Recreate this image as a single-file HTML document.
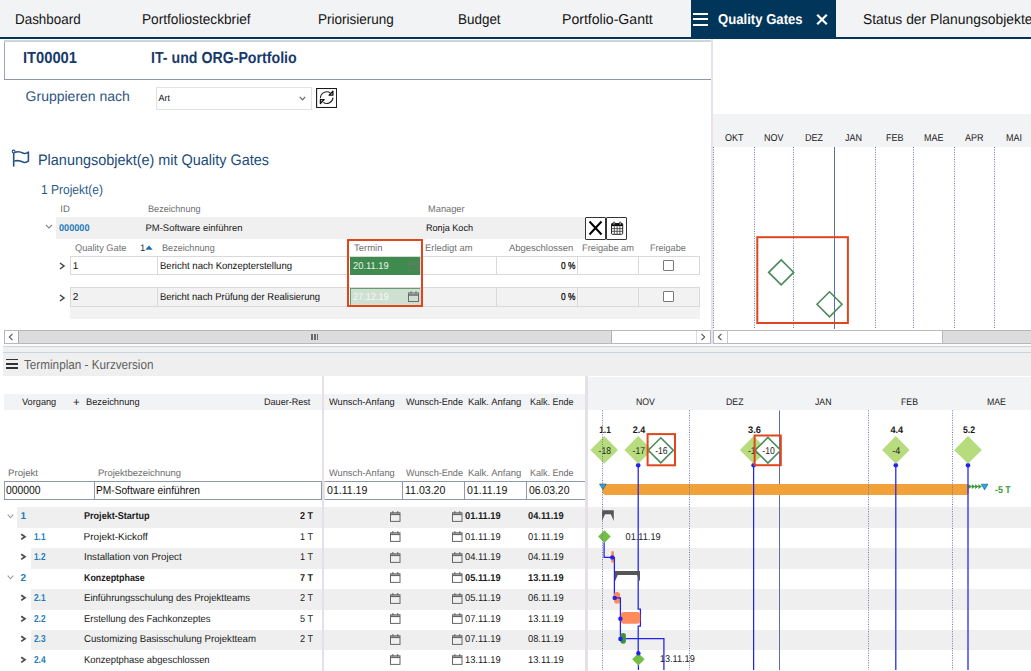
<!DOCTYPE html>
<html><head><meta charset="utf-8"><style>
html,body{margin:0;padding:0;overflow:hidden;}
body{width:1031px;height:671px;overflow:hidden;position:relative;background:#fff;font-family:'Liberation Sans', sans-serif;text-rendering:geometricPrecision;}
</style></head><body>
<div style="position:absolute;left:0px;top:0px;width:1031px;height:37px;background:#f2f3f5;"></div>
<div style="position:absolute;left:0px;top:37px;width:1031px;height:2px;background:#01355a;"></div>
<div style="position:absolute;left:691px;top:0px;width:145px;height:37px;background:#01355a;"></div>
<div style="position:absolute;left:693px;top:13px;width:14.5px;height:2px;background:#fff;"></div>
<div style="position:absolute;left:693px;top:18.4px;width:14.5px;height:2.0px;background:#fff;"></div>
<div style="position:absolute;left:693px;top:23.6px;width:14.5px;height:2.0px;background:#fff;"></div>
<svg style="position:absolute;left:816px;top:14px" width="12" height="11" viewBox="0 0 12 11"><path d="M1.2 0.8 L10.8 10.2 M10.8 0.8 L1.2 10.2" stroke="#fff" stroke-width="2.2"/></svg>
<div style="position:absolute;left:4px;top:40px;width:707px;height:2px;background:#d0d5dc;"></div>
<div style="position:absolute;left:4px;top:42px;width:1px;height:38px;background:#9aa6b2;"></div>
<div style="position:absolute;left:4px;top:79px;width:707px;height:1px;background:#8a99a8;"></div>
<div style="position:absolute;left:711px;top:39px;width:2px;height:306px;background:#e9e2ec;"></div>
<div style="position:absolute;left:156px;top:87px;width:156px;height:22.5px;background:#fff;border:1px solid #e2e2e2;box-sizing:border-box;"></div>
<svg style="position:absolute;left:299px;top:96px" width="7" height="5" viewBox="0 0 7 5"><path d="M0.8 0.8 L3.5 3.8 L6.2 0.8" stroke="#666" stroke-width="1.2" fill="none"/></svg>
<svg style="position:absolute;left:316px;top:88px" width="21" height="20" viewBox="0 0 21 20"><rect x="0.6" y="0.5" width="20" height="19" fill="#fff" stroke="#1a1a1a" stroke-width="1.1"/><path d="M4.4 10.2 A6.4 6.4 0 0 1 14.2 4.8" stroke="#222" stroke-width="1.1" fill="none"/><path d="M17 9.6 A6.4 6.4 0 0 1 7.4 14.6" stroke="#222" stroke-width="1.1" fill="none"/><path d="M16.9 3.3 L16.9 7.2 L13.1 7.2 Z" fill="#fff" stroke="#111" stroke-width="1.3" stroke-linejoin="round"/><path d="M4.4 11.6 L8.2 11.6 L4.4 15.5 Z" fill="#fff" stroke="#111" stroke-width="1.3" stroke-linejoin="round"/></svg>
<svg style="position:absolute;left:8px;top:146px" width="26" height="24" viewBox="0 0 26 24"><path d="M5.7 6.5 V20.6" stroke="#244f82" stroke-width="1.6"/><path d="M6.8 6.4 C8.5 5.6 12 5.4 15.5 7.2 C17.5 8 19 7.2 20.4 6 V15.2 C19 16.2 17.5 16.9 15.5 16.2 C12 14.6 8.5 14.4 6.4 15.1" stroke="#244f82" stroke-width="1.6" fill="none" stroke-linejoin="round"/><circle cx="5.6" cy="5.5" r="1.4" fill="#fff" stroke="#244f82" stroke-width="1.1"/></svg>
<div style="position:absolute;left:56px;top:216.5px;width:529px;height:22.5px;background:#f0f0f0;"></div>
<svg style="position:absolute;left:45px;top:224px" width="8" height="6" viewBox="0 0 8 6"><path d="M1 1 L4 4 L7 1" stroke="#888" stroke-width="1.1" fill="none"/></svg>
<div style="position:absolute;left:585px;top:217px;width:20.600000000000023px;height:22.599999999999994px;background:#fff;border:1px solid #333;box-sizing:border-box;border-radius:1px;"></div>
<svg style="position:absolute;left:588px;top:220px" width="15" height="16" viewBox="0 0 15 16"><path d="M1.5 1.5 L13.5 14.5 M13.5 1.5 L1.5 14.5" stroke="#000" stroke-width="2"/></svg>
<div style="position:absolute;left:606.2px;top:217px;width:20.799999999999955px;height:22.599999999999994px;background:#fff;border:1px solid #333;box-sizing:border-box;border-radius:1px;"></div>
<svg style="position:absolute;left:610px;top:221px" width="14" height="15" viewBox="0 0 14 15"><rect x="1.5" y="2.5" width="11.2" height="10.8" rx="1" fill="none" stroke="#222" stroke-width="1"/><rect x="1.5" y="2.5" width="11.2" height="2.6" fill="#111"/><path d="M1.5 7.6 H12.7 M1.5 10.3 H12.7 M4.3 5 V13.3 M7.1 5 V13.3 M9.9 5 V13.3" stroke="#333" stroke-width="0.8"/><rect x="3.2" y="1" width="1.6" height="3" rx="0.8" fill="#fff" stroke="#111" stroke-width="0.8"/><rect x="9.4" y="1" width="1.6" height="3" rx="0.8" fill="#fff" stroke="#111" stroke-width="0.8"/></svg>
<svg style="position:absolute;left:145px;top:245px" width="8" height="5" viewBox="0 0 8 5"><path d="M0.3 4.8 L4 0.5 L7.7 4.8 Z" fill="#1f6fb0"/></svg>
<div style="position:absolute;left:70px;top:256px;width:630px;height:19px;background:#fff;border:1px solid #d9d9d9;box-sizing:border-box;"></div>
<div style="position:absolute;left:157px;top:256px;width:1px;height:19px;background:#d9d9d9;"></div>
<div style="position:absolute;left:420px;top:256px;width:1px;height:19px;background:#d9d9d9;"></div>
<div style="position:absolute;left:496px;top:256px;width:1px;height:19px;background:#d9d9d9;"></div>
<div style="position:absolute;left:577px;top:256px;width:1px;height:19px;background:#d9d9d9;"></div>
<div style="position:absolute;left:638px;top:256px;width:1px;height:19px;background:#d9d9d9;"></div>
<div style="position:absolute;left:350px;top:256.5px;width:70px;height:18.0px;background:#3f8a4e;"></div>
<svg style="position:absolute;left:59px;top:262.0px" width="7" height="8" viewBox="0 0 7 8"><path d="M1 1 L5 4 L1 7" stroke="#444" stroke-width="1.5" fill="none"/></svg>
<div style="position:absolute;left:662.5px;top:259.9px;width:11.5px;height:11.0px;background:#fff;border:1px solid #7a7a7a;box-sizing:border-box;border-radius:1px;"></div>
<svg style="position:absolute;left:408px;top:259.5px" width="11" height="11" viewBox="0 0 11 11"><rect x="0.5" y="2" width="10" height="8.5" fill="none" stroke="#5f7d64" stroke-width="1"/><path d="M0.5 4 H10.5" stroke="#5f7d64" stroke-width="1.5"/><path d="M3 0.5 V2.5 M8 0.5 V2.5" stroke="#5f7d64" stroke-width="1.3"/></svg>
<div style="position:absolute;left:70px;top:287.3px;width:630px;height:19.399999999999977px;background:#f2f2f2;border:1px solid #d9d9d9;box-sizing:border-box;"></div>
<div style="position:absolute;left:157px;top:287.3px;width:1px;height:19.399999999999977px;background:#d9d9d9;"></div>
<div style="position:absolute;left:420px;top:287.3px;width:1px;height:19.399999999999977px;background:#d9d9d9;"></div>
<div style="position:absolute;left:496px;top:287.3px;width:1px;height:19.399999999999977px;background:#d9d9d9;"></div>
<div style="position:absolute;left:577px;top:287.3px;width:1px;height:19.399999999999977px;background:#d9d9d9;"></div>
<div style="position:absolute;left:638px;top:287.3px;width:1px;height:19.399999999999977px;background:#d9d9d9;"></div>
<div style="position:absolute;left:350px;top:287.8px;width:70px;height:18.399999999999977px;background:#cfdfd1;border-top:1px solid #6a9a72;border-left:1px solid #6a9a72;box-sizing:border-box;"></div>
<svg style="position:absolute;left:59px;top:293.5px" width="7" height="8" viewBox="0 0 7 8"><path d="M1 1 L5 4 L1 7" stroke="#444" stroke-width="1.5" fill="none"/></svg>
<div style="position:absolute;left:662.5px;top:291.4px;width:11.5px;height:11.0px;background:#fff;border:1px solid #7a7a7a;box-sizing:border-box;border-radius:1px;"></div>
<svg style="position:absolute;left:408px;top:291.0px" width="11" height="11" viewBox="0 0 11 11"><rect x="0.5" y="2" width="10" height="8.5" fill="none" stroke="#6a6a72" stroke-width="1"/><path d="M0.5 4 H10.5" stroke="#6a6a72" stroke-width="1.5"/><path d="M3 0.5 V2.5 M8 0.5 V2.5" stroke="#6a6a72" stroke-width="1.3"/></svg>
<div style="position:absolute;left:70px;top:306.7px;width:630px;height:12.0px;background:#f2f2f2;"></div>
<div style="position:absolute;left:347.4px;top:239px;width:75.20000000000005px;height:68.30000000000001px;background:none;border:2px solid #e0461e;box-sizing:border-box;"></div>
<div style="position:absolute;left:4px;top:330px;width:707px;height:14px;background:#fff;border:1px solid #b8b8b8;box-sizing:border-box;"></div>
<div style="position:absolute;left:5px;top:331px;width:13px;height:12px;background:#fff;"></div>
<div style="position:absolute;left:17.5px;top:331px;width:1.1999999999999993px;height:12px;background:#a8a8a8;"></div>
<svg style="position:absolute;left:8px;top:333px" width="6" height="8" viewBox="0 0 6 8"><path d="M4.5 0.8 L1.3 4 L4.5 7.2" stroke="#555" stroke-width="1.1" fill="none"/></svg>
<div style="position:absolute;left:18.7px;top:331px;width:593.3px;height:12px;background:#dcdcdc;"></div>
<div style="position:absolute;left:611px;top:331px;width:1px;height:12px;background:#b0b0b0;"></div>
<div style="position:absolute;left:311.2px;top:334px;width:1.6000000000000227px;height:6px;background:#6a6a6a;"></div>
<div style="position:absolute;left:314.0px;top:334px;width:1.6000000000000227px;height:6px;background:#6a6a6a;"></div>
<div style="position:absolute;left:316.6px;top:334px;width:1.6000000000000227px;height:6px;background:#6a6a6a;"></div>
<div style="position:absolute;left:696.4px;top:331px;width:1.0px;height:12px;background:#dcdcdc;"></div>
<svg style="position:absolute;left:700px;top:333px" width="6" height="8" viewBox="0 0 6 8"><path d="M1.5 0.8 L4.7 4 L1.5 7.2" stroke="#555" stroke-width="1.1" fill="none"/></svg>
<div style="position:absolute;left:713px;top:114px;width:318px;height:33px;background:#f2f3f5;"></div>
<svg style="position:absolute;left:0;top:0" width="1031" height="671" viewBox="0 0 1031 671"><line x1="713.5" y1="147" x2="713.5" y2="329" stroke="#6a7aa8" stroke-width="1" stroke-dasharray="1 1.4"/><line x1="754.5" y1="147" x2="754.5" y2="329" stroke="#6a7aa8" stroke-width="1" stroke-dasharray="1 1.4"/><line x1="793.5" y1="147" x2="793.5" y2="329" stroke="#6a7aa8" stroke-width="1" stroke-dasharray="1 1.4"/><line x1="875.5" y1="147" x2="875.5" y2="329" stroke="#6a7aa8" stroke-width="1" stroke-dasharray="1 1.4"/><line x1="913.5" y1="147" x2="913.5" y2="329" stroke="#6a7aa8" stroke-width="1" stroke-dasharray="1 1.4"/><line x1="954.5" y1="147" x2="954.5" y2="329" stroke="#6a7aa8" stroke-width="1" stroke-dasharray="1 1.4"/><line x1="994.5" y1="147" x2="994.5" y2="329" stroke="#6a7aa8" stroke-width="1" stroke-dasharray="1 1.4"/><line x1="834.5" y1="147" x2="834.5" y2="329" stroke="#5f6f9c" stroke-width="1"/><path d="M768.7 272.4 L781.2 259.9 L793.7 272.4 L781.2 284.9 Z" fill="none" stroke="#4a8a5a" stroke-width="1.6"/><path d="M817.0 304.3 L829.5 291.8 L842.0 304.3 L829.5 316.8 Z" fill="none" stroke="#4a8a5a" stroke-width="1.6"/><rect x="757.3" y="237.2" width="90.6" height="85.8" fill="none" stroke="#e0461e" stroke-width="2"/></svg>
<div style="position:absolute;left:713px;top:330px;width:318px;height:14px;background:#fff;border:1px solid #b8b8b8;box-sizing:border-box;"></div>
<div style="position:absolute;left:727px;top:331px;width:1px;height:12px;background:#c8c8c8;"></div>
<svg style="position:absolute;left:717px;top:333px" width="6" height="8" viewBox="0 0 6 8"><path d="M4.5 0.8 L1.3 4 L4.5 7.2" stroke="#555" stroke-width="1.1" fill="none"/></svg>
<div style="position:absolute;left:942.6px;top:331px;width:88.39999999999998px;height:12px;background:#dcdcdc;"></div>
<div style="position:absolute;left:942px;top:331px;width:1px;height:12px;background:#b8b8b8;"></div>
<div style="position:absolute;left:3px;top:344px;width:1028px;height:2px;background:#fcfcfc;"></div>
<div style="position:absolute;left:3px;top:346px;width:1028px;height:1px;background:#ccd3e0;"></div>
<div style="position:absolute;left:3px;top:347px;width:1028px;height:5px;background:#f0f0f0;"></div>
<div style="position:absolute;left:3px;top:352px;width:1028px;height:1px;background:#ccd3e0;"></div>
<div style="position:absolute;left:3px;top:353px;width:1028px;height:23px;background:#efefef;"></div>
<div style="position:absolute;left:6px;top:358.6px;width:12.2px;height:1.6000000000000227px;background:#333;"></div>
<div style="position:absolute;left:6px;top:363px;width:12.2px;height:1.6000000000000227px;background:#333;"></div>
<div style="position:absolute;left:6px;top:367.3px;width:12.2px;height:1.6000000000000227px;background:#333;"></div>
<div style="position:absolute;left:322px;top:376px;width:2px;height:295px;background:#e6dfe9;"></div>
<div style="position:absolute;left:585.2px;top:376px;width:2.599999999999909px;height:295px;background:#e6dfe9;"></div>
<div style="position:absolute;left:3.8px;top:394.4px;width:318.2px;height:16.0px;background:#f2f3f5;"></div>
<div style="position:absolute;left:324px;top:394.4px;width:261.20000000000005px;height:16.0px;background:#f2f3f5;"></div>
<div style="position:absolute;left:587.8px;top:377px;width:443.20000000000005px;height:33.39999999999998px;background:#f2f3f5;"></div>
<div style="position:absolute;left:3.8px;top:481.2px;width:317.9px;height:19.0px;background:#fff;border:1px solid #8d98a8;box-sizing:border-box;"></div>
<div style="position:absolute;left:94.4px;top:481.2px;width:1.0px;height:18.80000000000001px;background:#8d98a8;"></div>
<div style="position:absolute;left:324px;top:481.2px;width:261.20000000000005px;height:19.0px;background:#fff;border:1px solid #8d98a8;box-sizing:border-box;border-right:none;border-left:1px solid #e4e6ea;"></div>
<div style="position:absolute;left:401.9px;top:481.2px;width:1.0px;height:18.80000000000001px;background:#8d98a8;"></div>
<div style="position:absolute;left:464.1px;top:481.2px;width:1.0px;height:18.80000000000001px;background:#8d98a8;"></div>
<div style="position:absolute;left:526.3px;top:481.2px;width:1.0px;height:18.80000000000001px;background:#8d98a8;"></div>
<div style="position:absolute;left:17.3px;top:507px;width:304.7px;height:21px;background:#efefef;"></div>
<div style="position:absolute;left:324px;top:507px;width:261.20000000000005px;height:21px;background:#efefef;"></div>
<div style="position:absolute;left:587.8px;top:507px;width:443.20000000000005px;height:21px;background:#efefef;"></div>
<svg style="position:absolute;left:6.5px;top:513.75px" width="7" height="5" viewBox="0 0 7 5"><path d="M0.7 0.7 L3.5 3.8 L6.3 0.7" stroke="#999" stroke-width="1.1" fill="none"/></svg>
<svg style="position:absolute;left:389.7px;top:510.60px" width="11" height="11" viewBox="0 0 11 11"><rect x="0.5" y="1.8" width="9.5" height="8.6" fill="none" stroke="#666" stroke-width="1"/><path d="M0.5 3.3 H10" stroke="#666" stroke-width="1.6"/><path d="M2.8 0.3 V2.3 M7.7 0.3 V2.3" stroke="#666" stroke-width="1.3"/></svg>
<svg style="position:absolute;left:451.9px;top:510.60px" width="11" height="11" viewBox="0 0 11 11"><rect x="0.5" y="1.8" width="9.5" height="8.6" fill="none" stroke="#666" stroke-width="1"/><path d="M0.5 3.3 H10" stroke="#666" stroke-width="1.6"/><path d="M2.8 0.3 V2.3 M7.7 0.3 V2.3" stroke="#666" stroke-width="1.3"/></svg>
<svg style="position:absolute;left:19.8px;top:532.75px" width="7" height="8" viewBox="0 0 7 8"><path d="M1.2 1.2 L5 3.8 L1.2 6.4" stroke="#4a4a4a" stroke-width="1.7" fill="none"/></svg>
<svg style="position:absolute;left:389.7px;top:531.10px" width="11" height="11" viewBox="0 0 11 11"><rect x="0.5" y="1.8" width="9.5" height="8.6" fill="none" stroke="#666" stroke-width="1"/><path d="M0.5 3.3 H10" stroke="#666" stroke-width="1.6"/><path d="M2.8 0.3 V2.3 M7.7 0.3 V2.3" stroke="#666" stroke-width="1.3"/></svg>
<svg style="position:absolute;left:451.9px;top:531.10px" width="11" height="11" viewBox="0 0 11 11"><rect x="0.5" y="1.8" width="9.5" height="8.6" fill="none" stroke="#666" stroke-width="1"/><path d="M0.5 3.3 H10" stroke="#666" stroke-width="1.6"/><path d="M2.8 0.3 V2.3 M7.7 0.3 V2.3" stroke="#666" stroke-width="1.3"/></svg>
<div style="position:absolute;left:31.1px;top:548px;width:290.9px;height:21px;background:#efefef;"></div>
<div style="position:absolute;left:324px;top:548px;width:261.20000000000005px;height:21px;background:#efefef;"></div>
<div style="position:absolute;left:587.8px;top:548px;width:443.20000000000005px;height:21px;background:#efefef;"></div>
<svg style="position:absolute;left:19.8px;top:553.25px" width="7" height="8" viewBox="0 0 7 8"><path d="M1.2 1.2 L5 3.8 L1.2 6.4" stroke="#4a4a4a" stroke-width="1.7" fill="none"/></svg>
<svg style="position:absolute;left:389.7px;top:551.60px" width="11" height="11" viewBox="0 0 11 11"><rect x="0.5" y="1.8" width="9.5" height="8.6" fill="none" stroke="#666" stroke-width="1"/><path d="M0.5 3.3 H10" stroke="#666" stroke-width="1.6"/><path d="M2.8 0.3 V2.3 M7.7 0.3 V2.3" stroke="#666" stroke-width="1.3"/></svg>
<svg style="position:absolute;left:451.9px;top:551.60px" width="11" height="11" viewBox="0 0 11 11"><rect x="0.5" y="1.8" width="9.5" height="8.6" fill="none" stroke="#666" stroke-width="1"/><path d="M0.5 3.3 H10" stroke="#666" stroke-width="1.6"/><path d="M2.8 0.3 V2.3 M7.7 0.3 V2.3" stroke="#666" stroke-width="1.3"/></svg>
<svg style="position:absolute;left:6.5px;top:575.25px" width="7" height="5" viewBox="0 0 7 5"><path d="M0.7 0.7 L3.5 3.8 L6.3 0.7" stroke="#999" stroke-width="1.1" fill="none"/></svg>
<svg style="position:absolute;left:389.7px;top:572.10px" width="11" height="11" viewBox="0 0 11 11"><rect x="0.5" y="1.8" width="9.5" height="8.6" fill="none" stroke="#666" stroke-width="1"/><path d="M0.5 3.3 H10" stroke="#666" stroke-width="1.6"/><path d="M2.8 0.3 V2.3 M7.7 0.3 V2.3" stroke="#666" stroke-width="1.3"/></svg>
<svg style="position:absolute;left:451.9px;top:572.10px" width="11" height="11" viewBox="0 0 11 11"><rect x="0.5" y="1.8" width="9.5" height="8.6" fill="none" stroke="#666" stroke-width="1"/><path d="M0.5 3.3 H10" stroke="#666" stroke-width="1.6"/><path d="M2.8 0.3 V2.3 M7.7 0.3 V2.3" stroke="#666" stroke-width="1.3"/></svg>
<div style="position:absolute;left:31.1px;top:589px;width:290.9px;height:20.5px;background:#efefef;"></div>
<div style="position:absolute;left:324px;top:589px;width:261.20000000000005px;height:20.5px;background:#efefef;"></div>
<div style="position:absolute;left:587.8px;top:589px;width:443.20000000000005px;height:20.5px;background:#efefef;"></div>
<svg style="position:absolute;left:19.8px;top:594.25px" width="7" height="8" viewBox="0 0 7 8"><path d="M1.2 1.2 L5 3.8 L1.2 6.4" stroke="#4a4a4a" stroke-width="1.7" fill="none"/></svg>
<svg style="position:absolute;left:389.7px;top:592.60px" width="11" height="11" viewBox="0 0 11 11"><rect x="0.5" y="1.8" width="9.5" height="8.6" fill="none" stroke="#666" stroke-width="1"/><path d="M0.5 3.3 H10" stroke="#666" stroke-width="1.6"/><path d="M2.8 0.3 V2.3 M7.7 0.3 V2.3" stroke="#666" stroke-width="1.3"/></svg>
<svg style="position:absolute;left:451.9px;top:592.60px" width="11" height="11" viewBox="0 0 11 11"><rect x="0.5" y="1.8" width="9.5" height="8.6" fill="none" stroke="#666" stroke-width="1"/><path d="M0.5 3.3 H10" stroke="#666" stroke-width="1.6"/><path d="M2.8 0.3 V2.3 M7.7 0.3 V2.3" stroke="#666" stroke-width="1.3"/></svg>
<svg style="position:absolute;left:19.8px;top:614.75px" width="7" height="8" viewBox="0 0 7 8"><path d="M1.2 1.2 L5 3.8 L1.2 6.4" stroke="#4a4a4a" stroke-width="1.7" fill="none"/></svg>
<svg style="position:absolute;left:389.7px;top:613.10px" width="11" height="11" viewBox="0 0 11 11"><rect x="0.5" y="1.8" width="9.5" height="8.6" fill="none" stroke="#666" stroke-width="1"/><path d="M0.5 3.3 H10" stroke="#666" stroke-width="1.6"/><path d="M2.8 0.3 V2.3 M7.7 0.3 V2.3" stroke="#666" stroke-width="1.3"/></svg>
<svg style="position:absolute;left:451.9px;top:613.10px" width="11" height="11" viewBox="0 0 11 11"><rect x="0.5" y="1.8" width="9.5" height="8.6" fill="none" stroke="#666" stroke-width="1"/><path d="M0.5 3.3 H10" stroke="#666" stroke-width="1.6"/><path d="M2.8 0.3 V2.3 M7.7 0.3 V2.3" stroke="#666" stroke-width="1.3"/></svg>
<div style="position:absolute;left:31.1px;top:630px;width:290.9px;height:19.799999999999955px;background:#efefef;"></div>
<div style="position:absolute;left:324px;top:630px;width:261.20000000000005px;height:19.799999999999955px;background:#efefef;"></div>
<div style="position:absolute;left:587.8px;top:630px;width:443.20000000000005px;height:19.799999999999955px;background:#efefef;"></div>
<svg style="position:absolute;left:19.8px;top:635.25px" width="7" height="8" viewBox="0 0 7 8"><path d="M1.2 1.2 L5 3.8 L1.2 6.4" stroke="#4a4a4a" stroke-width="1.7" fill="none"/></svg>
<svg style="position:absolute;left:389.7px;top:633.60px" width="11" height="11" viewBox="0 0 11 11"><rect x="0.5" y="1.8" width="9.5" height="8.6" fill="none" stroke="#666" stroke-width="1"/><path d="M0.5 3.3 H10" stroke="#666" stroke-width="1.6"/><path d="M2.8 0.3 V2.3 M7.7 0.3 V2.3" stroke="#666" stroke-width="1.3"/></svg>
<svg style="position:absolute;left:451.9px;top:633.60px" width="11" height="11" viewBox="0 0 11 11"><rect x="0.5" y="1.8" width="9.5" height="8.6" fill="none" stroke="#666" stroke-width="1"/><path d="M0.5 3.3 H10" stroke="#666" stroke-width="1.6"/><path d="M2.8 0.3 V2.3 M7.7 0.3 V2.3" stroke="#666" stroke-width="1.3"/></svg>
<svg style="position:absolute;left:19.8px;top:655.75px" width="7" height="8" viewBox="0 0 7 8"><path d="M1.2 1.2 L5 3.8 L1.2 6.4" stroke="#4a4a4a" stroke-width="1.7" fill="none"/></svg>
<svg style="position:absolute;left:389.7px;top:654.10px" width="11" height="11" viewBox="0 0 11 11"><rect x="0.5" y="1.8" width="9.5" height="8.6" fill="none" stroke="#666" stroke-width="1"/><path d="M0.5 3.3 H10" stroke="#666" stroke-width="1.6"/><path d="M2.8 0.3 V2.3 M7.7 0.3 V2.3" stroke="#666" stroke-width="1.3"/></svg>
<svg style="position:absolute;left:451.9px;top:654.10px" width="11" height="11" viewBox="0 0 11 11"><rect x="0.5" y="1.8" width="9.5" height="8.6" fill="none" stroke="#666" stroke-width="1"/><path d="M0.5 3.3 H10" stroke="#666" stroke-width="1.6"/><path d="M2.8 0.3 V2.3 M7.7 0.3 V2.3" stroke="#666" stroke-width="1.3"/></svg>
<svg style="position:absolute;left:0;top:0" width="1031" height="671" viewBox="0 0 1031 671"><line x1="779.5" y1="410.4" x2="779.5" y2="670" stroke="#5f6f9c" stroke-width="1"/><path d="M602.3 484 H967 Q968.8 484 968.8 486 V493 Q968.8 495 966.8 495 H606.3 Q602.3 495 602.3 491 Z" fill="#f0a13a"/><path d="M599.5 484 H606.2 L602.85 489.6 Z" fill="#18b0f0" stroke="#2a4a6a" stroke-width="0.6"/><path d="M968.5 484.3 L972 486.6 L968.5 488.9 Z M971.8 484.3 L975.3 486.6 L971.8 488.9 Z M975.1 484.3 L978.6 486.6 L975.1 488.9 Z M978.4 484.3 L981.9 486.6 L978.4 488.9 Z" fill="#3a9a3a"/><path d="M981.2 484.2 H988 L984.6 489.8 Z" fill="#18b0f0" stroke="#2a4a6a" stroke-width="0.6"/><path d="M638.2 465.3 V609.2 H640.4 V626.1 H638.2 V653.2 M638.4 665 V670" stroke="#2222ee" stroke-width="1.25" fill="none"/><circle cx="638.2" cy="465.3" r="2.3" fill="#2222ee"/><line x1="753.6" y1="465.3" x2="753.6" y2="670" stroke="#2222ee" stroke-width="1.25"/><circle cx="753.6" cy="465.3" r="2.3" fill="#2222ee"/><line x1="895.8" y1="465.3" x2="895.8" y2="670" stroke="#2222ee" stroke-width="1.25"/><circle cx="895.8" cy="465.3" r="2.3" fill="#2222ee"/><line x1="968" y1="465.3" x2="968" y2="670" stroke="#2222ee" stroke-width="1.25"/><circle cx="968" cy="465.3" r="2.3" fill="#2222ee"/><path d="M590.4000000000001 449.9 L604.2 436.09999999999997 L618.0 449.9 L604.2 463.7 Z" fill="#b7dc7d"/><path d="M624.4000000000001 449.9 L638.2 436.09999999999997 L652.0 449.9 L638.2 463.7 Z" fill="#b7dc7d"/><path d="M739.8000000000001 449.9 L753.6 436.09999999999997 L767.4 449.9 L753.6 463.7 Z" fill="#b7dc7d"/><path d="M882.0 449.9 L895.8 436.09999999999997 L909.5999999999999 449.9 L895.8 463.7 Z" fill="#b7dc7d"/><path d="M954.2 449.9 L968 436.09999999999997 L981.8 449.9 L968 463.7 Z" fill="#b7dc7d"/><text x="604.8" y="453.6" font-family="Liberation Sans" font-size="10" font-weight="400" fill="#222" text-anchor="middle" textLength="12.4" lengthAdjust="spacingAndGlyphs">-18</text><text x="638.8" y="453.6" font-family="Liberation Sans" font-size="10" font-weight="400" fill="#222" text-anchor="middle" textLength="12.4" lengthAdjust="spacingAndGlyphs">-17</text><text x="754.2" y="453.6" font-family="Liberation Sans" font-size="10" font-weight="400" fill="#222" text-anchor="middle" textLength="12.4" lengthAdjust="spacingAndGlyphs">-10</text><text x="896.2" y="453.6" font-family="Liberation Sans" font-size="10" font-weight="400" fill="#222" text-anchor="middle" textLength="8" lengthAdjust="spacingAndGlyphs">-4</text><path d="M648.3 450.3 L660.8 437.8 L673.3 450.3 L660.8 462.8 Z" fill="#fff" stroke="#4a8a5a" stroke-width="1.6"/><text x="661.4" y="453.6" font-family="Liberation Sans" font-size="10" font-weight="400" fill="#222" text-anchor="middle" textLength="12.4" lengthAdjust="spacingAndGlyphs">-16</text><path d="M755.1 450.3 L767.9 437.5 L780.6999999999999 450.3 L767.9 463.1 Z" fill="#fff" stroke="#4a8a5a" stroke-width="1.6"/><text x="768.5" y="453.6" font-family="Liberation Sans" font-size="10" font-weight="400" fill="#222" text-anchor="middle" textLength="12.4" lengthAdjust="spacingAndGlyphs">-10</text><rect x="647.6" y="434.1" width="27.4" height="31.2" fill="none" stroke="#e0461e" stroke-width="2"/><rect x="754.6" y="435.5" width="26.2" height="29.7" fill="none" stroke="#e0461e" stroke-width="2"/><text x="599.2" y="432.9" font-family="Liberation Sans" font-size="9.5" font-weight="700" fill="#1a1a1a" text-anchor="start" textLength="11.7" lengthAdjust="spacingAndGlyphs">1.1</text><text x="632.8" y="432.9" font-family="Liberation Sans" font-size="9.5" font-weight="700" fill="#1a1a1a" text-anchor="start" textLength="12.5" lengthAdjust="spacingAndGlyphs">2.4</text><text x="748" y="432.9" font-family="Liberation Sans" font-size="9.5" font-weight="700" fill="#1a1a1a" text-anchor="start" textLength="13" lengthAdjust="spacingAndGlyphs">3.6</text><text x="890.4" y="432.9" font-family="Liberation Sans" font-size="9.5" font-weight="700" fill="#1a1a1a" text-anchor="start" textLength="12.7" lengthAdjust="spacingAndGlyphs">4.4</text><text x="963" y="432.9" font-family="Liberation Sans" font-size="9.5" font-weight="700" fill="#1a1a1a" text-anchor="start" textLength="12.1" lengthAdjust="spacingAndGlyphs">5.2</text><text x="995" y="492.8" font-family="Liberation Sans" font-size="10" font-weight="700" fill="#3a9a3a" text-anchor="start" textLength="15.7" lengthAdjust="spacingAndGlyphs">-5 T</text><path d="M602 510.2 H613.8 V521 L610.8 514.2 H605 L602 521 Z" fill="#555"/><path d="M614.8 571 H640 V581.8 L637 575 H617.8 L614.8 581.8 Z" fill="#555"/><path d="M598.1 536.6 L604.4 530.3000000000001 L610.6999999999999 536.6 L604.4 542.9 Z" fill="#72bf44"/><text x="625.6" y="540" font-family="Liberation Sans" font-size="10" font-weight="400" fill="#222" text-anchor="start" textLength="35" lengthAdjust="spacingAndGlyphs">01.11.19</text><path d="M604.1 542.5 V557.4 H612.2" stroke="#2222ee" stroke-width="1.25" fill="none"/><rect x="611.2" y="551" width="2.8" height="11.8" rx="1.4" fill="#ff8a5c"/><circle cx="612.2" cy="557.4" r="2.2" fill="#2222ee"/><path d="M612.2 557.4 H614.4 V597.9" stroke="#2222ee" stroke-width="1.25" fill="none"/><rect x="614" y="592" width="6.1" height="11.7" rx="3" fill="#ff8a5c"/><circle cx="614.7" cy="597.9" r="2.2" fill="#2222ee"/><path d="M614.7 597.9 H620.4 V639" stroke="#2222ee" stroke-width="1.25" fill="none"/><rect x="620.8" y="612.1" width="19.4" height="11.6" rx="3" fill="#ff8a5c"/><circle cx="620.4" cy="618.7" r="2.2" fill="#2222ee"/><rect x="620.4" y="632.9" width="5.5" height="10.8" rx="2.7" fill="#3f8f3f"/><circle cx="620.4" cy="639" r="2.2" fill="#2222ee"/><path d="M625.9 638.6 H663.9 V670" stroke="#2222ee" stroke-width="1.25" fill="none"/><path d="M632.1999999999999 659.3 L638.4 653.0999999999999 L644.6 659.3 L638.4 665.5 Z" fill="#72bf44"/><circle cx="638.4" cy="653.2" r="2.2" fill="#2222ee"/><text x="659.8" y="662" font-family="Liberation Sans" font-size="10" font-weight="400" fill="#222" text-anchor="start" textLength="35" lengthAdjust="spacingAndGlyphs">13.11.19</text><line x1="602.5" y1="410.4" x2="602.5" y2="670" stroke="#6a7aa8" stroke-width="1" stroke-dasharray="1 1.4"/><line x1="689.5" y1="410.4" x2="689.5" y2="670" stroke="#6a7aa8" stroke-width="1" stroke-dasharray="1 1.4"/><line x1="868.5" y1="410.4" x2="868.5" y2="670" stroke="#6a7aa8" stroke-width="1" stroke-dasharray="1 1.4"/><line x1="952.5" y1="410.4" x2="952.5" y2="670" stroke="#6a7aa8" stroke-width="1" stroke-dasharray="1 1.4"/></svg>
<div style="position:absolute;left:14.90px;top:13.00px;font-size:14.3px;line-height:14.3px;font-weight:400;color:#141414;white-space:nowrap;transform:scaleX(0.9378);transform-origin:0 0;">Dashboard</div>
<div style="position:absolute;left:142.00px;top:13.00px;font-size:14.3px;line-height:14.3px;font-weight:400;color:#141414;white-space:nowrap;transform:scaleX(0.9556);transform-origin:0 0;">Portfoliosteckbrief</div>
<div style="position:absolute;left:317.90px;top:13.00px;font-size:14.3px;line-height:14.3px;font-weight:400;color:#141414;white-space:nowrap;transform:scaleX(0.9444);transform-origin:0 0;">Priorisierung</div>
<div style="position:absolute;left:458.30px;top:13.00px;font-size:14.3px;line-height:14.3px;font-weight:400;color:#141414;white-space:nowrap;transform:scaleX(0.9398);transform-origin:0 0;">Budget</div>
<div style="position:absolute;left:562.00px;top:13.00px;font-size:14.3px;line-height:14.3px;font-weight:400;color:#141414;white-space:nowrap;transform:scaleX(0.9849);transform-origin:0 0;">Portfolio-Gantt</div>
<div style="position:absolute;left:717.80px;top:13.00px;font-size:14.3px;line-height:14.3px;font-weight:700;color:#fff;white-space:nowrap;transform:scaleX(0.9179);transform-origin:0 0;">Quality Gates</div>
<div style="position:absolute;left:862.60px;top:13.00px;font-size:14.3px;line-height:14.3px;font-weight:400;color:#141414;white-space:nowrap;transform:scaleX(0.9694);transform-origin:0 0;">Status der Planungsobjekte</div>
<div style="position:absolute;left:23.00px;top:51.00px;font-size:16px;line-height:16px;font-weight:700;color:#163a6a;white-space:nowrap;transform:scaleX(0.9196);transform-origin:0 0;">IT00001</div>
<div style="position:absolute;left:151.10px;top:51.00px;font-size:16px;line-height:16px;font-weight:700;color:#163a6a;white-space:nowrap;transform:scaleX(0.8861);transform-origin:0 0;">IT- und ORG-Portfolio</div>
<div style="position:absolute;left:25.60px;top:89.00px;font-size:14px;line-height:14px;font-weight:400;color:#2e5582;white-space:nowrap;">Gruppieren nach</div>
<div style="position:absolute;left:158.40px;top:94.00px;font-size:9px;line-height:9px;font-weight:400;color:#111;white-space:nowrap;">Art</div>
<div style="position:absolute;left:38.00px;top:153.00px;font-size:15.3px;line-height:15.3px;font-weight:400;color:#214c78;white-space:nowrap;transform:scaleX(0.9433);transform-origin:0 0;">Planungsobjekt(e) mit Quality Gates</div>
<div style="position:absolute;left:40.70px;top:183.00px;font-size:13px;line-height:13px;font-weight:400;color:#2a5a8a;white-space:nowrap;transform:scaleX(0.9226);transform-origin:0 0;">1 Projekt(e)</div>
<div style="position:absolute;left:60.30px;top:205.00px;font-size:9.5px;line-height:9.5px;font-weight:400;color:#6f6f6f;white-space:nowrap;">ID</div>
<div style="position:absolute;left:147.70px;top:205.00px;font-size:9.5px;line-height:9.5px;font-weight:400;color:#6f6f6f;white-space:nowrap;transform:scaleX(0.9575);transform-origin:0 0;">Bezeichnung</div>
<div style="position:absolute;left:428.40px;top:205.00px;font-size:9.5px;line-height:9.5px;font-weight:400;color:#6f6f6f;white-space:nowrap;transform:scaleX(0.9760);transform-origin:0 0;">Manager</div>
<div style="position:absolute;left:59.30px;top:224.00px;font-size:9.8px;line-height:9.8px;font-weight:700;color:#1f7ab8;white-space:nowrap;transform:scaleX(0.9326);transform-origin:0 0;">000000</div>
<div style="position:absolute;left:145.40px;top:224.00px;font-size:9.5px;line-height:9.5px;font-weight:400;color:#222;white-space:nowrap;">PM-Software einführen</div>
<div style="position:absolute;left:425.60px;top:224.00px;font-size:9.5px;line-height:9.5px;font-weight:400;color:#111;white-space:nowrap;transform:scaleX(0.9567);transform-origin:0 0;">Ronja Koch</div>
<div style="position:absolute;left:75.10px;top:244.00px;font-size:9.5px;line-height:9.5px;font-weight:400;color:#6f6f6f;white-space:nowrap;transform:scaleX(0.9733);transform-origin:0 0;">Quality Gate</div>
<div style="position:absolute;left:139.90px;top:244.00px;font-size:9.5px;line-height:9.5px;font-weight:400;color:#333;white-space:nowrap;">1</div>
<div style="position:absolute;left:161.50px;top:244.00px;font-size:9.5px;line-height:9.5px;font-weight:400;color:#6f6f6f;white-space:nowrap;transform:scaleX(0.9593);transform-origin:0 0;">Bezeichnung</div>
<div style="position:absolute;left:354.00px;top:244.00px;font-size:9.5px;line-height:9.5px;font-weight:400;color:#6f6f6f;white-space:nowrap;">Termin</div>
<div style="position:absolute;left:424.80px;top:244.00px;font-size:9.5px;line-height:9.5px;font-weight:400;color:#6f6f6f;white-space:nowrap;transform:scaleX(0.9883);transform-origin:0 0;">Erledigt am</div>
<div style="position:absolute;left:508.90px;top:244.00px;font-size:9.5px;line-height:9.5px;font-weight:400;color:#6f6f6f;white-space:nowrap;">Abgeschlossen</div>
<div style="position:absolute;left:581.70px;top:244.00px;font-size:9.5px;line-height:9.5px;font-weight:400;color:#6f6f6f;white-space:nowrap;transform:scaleX(0.9748);transform-origin:0 0;">Freigabe am</div>
<div style="position:absolute;left:650.10px;top:244.00px;font-size:9.5px;line-height:9.5px;font-weight:400;color:#6f6f6f;white-space:nowrap;transform:scaleX(0.9520);transform-origin:0 0;">Freigabe</div>
<div style="position:absolute;left:72.70px;top:262.00px;font-size:10px;line-height:10px;font-weight:400;color:#111;white-space:nowrap;">1</div>
<div style="position:absolute;left:159.50px;top:262.00px;font-size:10px;line-height:10px;font-weight:400;color:#111;white-space:nowrap;transform:scaleX(0.9536);transform-origin:0 0;">Bericht nach Konzepterstellung</div>
<div style="position:absolute;left:353.30px;top:262.00px;font-size:10px;line-height:10px;font-weight:400;color:#e8f2e8;white-space:nowrap;transform:scaleX(0.9349);transform-origin:0 0;">20.11.19</div>
<div style="position:absolute;left:561.30px;top:262.00px;font-size:10px;line-height:10px;font-weight:400;color:#000;white-space:nowrap;transform:scaleX(0.8355);transform-origin:0 0;-webkit-text-stroke:0.25px #000;">0 %</div>
<div style="position:absolute;left:72.70px;top:293.00px;font-size:10px;line-height:10px;font-weight:400;color:#111;white-space:nowrap;">2</div>
<div style="position:absolute;left:159.50px;top:293.00px;font-size:10px;line-height:10px;font-weight:400;color:#111;white-space:nowrap;transform:scaleX(0.9468);transform-origin:0 0;">Bericht nach Prüfung der Realisierung</div>
<div style="position:absolute;left:353.30px;top:293.00px;font-size:10px;line-height:10px;font-weight:400;color:#f6faf6;white-space:nowrap;transform:scaleX(0.9169);transform-origin:0 0;">27.12.19</div>
<div style="position:absolute;left:561.30px;top:293.00px;font-size:10px;line-height:10px;font-weight:400;color:#000;white-space:nowrap;transform:scaleX(0.8355);transform-origin:0 0;-webkit-text-stroke:0.25px #000;">0 %</div>
<div style="position:absolute;left:724.70px;top:134.00px;font-size:10px;line-height:10px;font-weight:400;color:#222;white-space:nowrap;transform:scaleX(0.9);transform-origin:0 0;">OKT</div>
<div style="position:absolute;left:763.60px;top:134.00px;font-size:10px;line-height:10px;font-weight:400;color:#222;white-space:nowrap;transform:scaleX(0.9);transform-origin:0 0;">NOV</div>
<div style="position:absolute;left:805.30px;top:134.00px;font-size:10px;line-height:10px;font-weight:400;color:#222;white-space:nowrap;transform:scaleX(0.9);transform-origin:0 0;">DEZ</div>
<div style="position:absolute;left:845.10px;top:134.00px;font-size:10px;line-height:10px;font-weight:400;color:#222;white-space:nowrap;transform:scaleX(0.9);transform-origin:0 0;">JAN</div>
<div style="position:absolute;left:886.20px;top:134.00px;font-size:10px;line-height:10px;font-weight:400;color:#222;white-space:nowrap;transform:scaleX(0.9);transform-origin:0 0;">FEB</div>
<div style="position:absolute;left:923.80px;top:134.00px;font-size:10px;line-height:10px;font-weight:400;color:#222;white-space:nowrap;transform:scaleX(0.9);transform-origin:0 0;">MAE</div>
<div style="position:absolute;left:964.80px;top:134.00px;font-size:10px;line-height:10px;font-weight:400;color:#222;white-space:nowrap;transform:scaleX(0.9);transform-origin:0 0;">APR</div>
<div style="position:absolute;left:1006.00px;top:134.00px;font-size:10px;line-height:10px;font-weight:400;color:#222;white-space:nowrap;transform:scaleX(0.9);transform-origin:0 0;">MAI</div>
<div style="position:absolute;left:23.80px;top:358.00px;font-size:13px;line-height:13px;font-weight:400;color:#5e5e5e;white-space:nowrap;transform:scaleX(0.9007);transform-origin:0 0;">Terminplan - Kurzversion</div>
<div style="position:absolute;left:21.70px;top:398.00px;font-size:9.5px;line-height:9.5px;font-weight:400;color:#222;white-space:nowrap;transform:scaleX(0.9659);transform-origin:0 0;">Vorgang</div>
<div style="position:absolute;left:73.00px;top:398.00px;font-size:11.5px;line-height:11.5px;font-weight:400;color:#222;white-space:nowrap;">+</div>
<div style="position:absolute;left:86.20px;top:398.00px;font-size:9.5px;line-height:9.5px;font-weight:400;color:#222;white-space:nowrap;transform:scaleX(0.9757);transform-origin:0 0;">Bezeichnung</div>
<div style="position:absolute;left:264.10px;top:398.00px;font-size:9.5px;line-height:9.5px;font-weight:400;color:#222;white-space:nowrap;transform:scaleX(0.9552);transform-origin:0 0;">Dauer-Rest</div>
<div style="position:absolute;left:328.60px;top:398.00px;font-size:9.5px;line-height:9.5px;font-weight:400;color:#222;white-space:nowrap;transform:scaleX(0.9745);transform-origin:0 0;">Wunsch-Anfang</div>
<div style="position:absolute;left:406.00px;top:398.00px;font-size:9.5px;line-height:9.5px;font-weight:400;color:#222;white-space:nowrap;transform:scaleX(0.9580);transform-origin:0 0;">Wunsch-Ende</div>
<div style="position:absolute;left:467.90px;top:398.00px;font-size:9.5px;line-height:9.5px;font-weight:400;color:#222;white-space:nowrap;">Kalk. Anfang</div>
<div style="position:absolute;left:530.40px;top:398.00px;font-size:9.5px;line-height:9.5px;font-weight:400;color:#222;white-space:nowrap;transform:scaleX(0.9466);transform-origin:0 0;">Kalk. Ende</div>
<div style="position:absolute;left:635.70px;top:398.00px;font-size:9.5px;line-height:9.5px;font-weight:400;color:#222;white-space:nowrap;transform:scaleX(0.92);transform-origin:0 0;">NOV</div>
<div style="position:absolute;left:725.50px;top:398.00px;font-size:9.5px;line-height:9.5px;font-weight:400;color:#222;white-space:nowrap;transform:scaleX(0.92);transform-origin:0 0;">DEZ</div>
<div style="position:absolute;left:814.50px;top:398.00px;font-size:9.5px;line-height:9.5px;font-weight:400;color:#222;white-space:nowrap;transform:scaleX(0.92);transform-origin:0 0;">JAN</div>
<div style="position:absolute;left:901.00px;top:398.00px;font-size:9.5px;line-height:9.5px;font-weight:400;color:#222;white-space:nowrap;transform:scaleX(0.92);transform-origin:0 0;">FEB</div>
<div style="position:absolute;left:987.00px;top:398.00px;font-size:9.5px;line-height:9.5px;font-weight:400;color:#222;white-space:nowrap;transform:scaleX(0.92);transform-origin:0 0;">MAE</div>
<div style="position:absolute;left:8.00px;top:469.00px;font-size:9.5px;line-height:9.5px;font-weight:400;color:#6d6d6d;white-space:nowrap;transform:scaleX(1.0143);transform-origin:0 0;">Projekt</div>
<div style="position:absolute;left:98.20px;top:469.00px;font-size:9.5px;line-height:9.5px;font-weight:400;color:#6d6d6d;white-space:nowrap;transform:scaleX(0.9946);transform-origin:0 0;">Projektbezeichnung</div>
<div style="position:absolute;left:328.60px;top:469.00px;font-size:9.5px;line-height:9.5px;font-weight:400;color:#6d6d6d;white-space:nowrap;transform:scaleX(0.9745);transform-origin:0 0;">Wunsch-Anfang</div>
<div style="position:absolute;left:406.00px;top:469.00px;font-size:9.5px;line-height:9.5px;font-weight:400;color:#6d6d6d;white-space:nowrap;transform:scaleX(0.9580);transform-origin:0 0;">Wunsch-Ende</div>
<div style="position:absolute;left:467.90px;top:469.00px;font-size:9.5px;line-height:9.5px;font-weight:400;color:#6d6d6d;white-space:nowrap;">Kalk. Anfang</div>
<div style="position:absolute;left:530.40px;top:469.00px;font-size:9.5px;line-height:9.5px;font-weight:400;color:#6d6d6d;white-space:nowrap;transform:scaleX(0.9466);transform-origin:0 0;">Kalk. Ende</div>
<div style="position:absolute;left:6.40px;top:485.00px;font-size:11.8px;line-height:11.8px;font-weight:400;color:#111;white-space:nowrap;transform:scaleX(0.8787);transform-origin:0 0;">000000</div>
<div style="position:absolute;left:96.00px;top:486.00px;font-size:11.5px;line-height:11.5px;font-weight:400;color:#111;white-space:nowrap;transform:scaleX(0.8842);transform-origin:0 0;">PM-Software einführen</div>
<div style="position:absolute;left:327.00px;top:486.00px;font-size:11.5px;line-height:11.5px;font-weight:400;color:#111;white-space:nowrap;transform:scaleX(0.9198);transform-origin:0 0;">01.11.19</div>
<div style="position:absolute;left:404.60px;top:486.00px;font-size:11.5px;line-height:11.5px;font-weight:400;color:#111;white-space:nowrap;transform:scaleX(0.9198);transform-origin:0 0;">11.03.20</div>
<div style="position:absolute;left:466.50px;top:486.00px;font-size:11.5px;line-height:11.5px;font-weight:400;color:#111;white-space:nowrap;transform:scaleX(0.9198);transform-origin:0 0;">01.11.19</div>
<div style="position:absolute;left:528.70px;top:486.00px;font-size:11.5px;line-height:11.5px;font-weight:400;color:#111;white-space:nowrap;transform:scaleX(0.9025);transform-origin:0 0;">06.03.20</div>
<div style="position:absolute;left:20.60px;top:512.00px;font-size:10px;line-height:10px;font-weight:700;color:#1b7ab8;white-space:nowrap;">1</div>
<div style="position:absolute;left:83.60px;top:512.00px;font-size:10px;line-height:10px;font-weight:700;color:#1a1a1a;white-space:nowrap;transform:scaleX(0.9068);transform-origin:0 0;">Projekt-Startup</div>
<div style="position:absolute;left:299.60px;top:512.00px;font-size:10px;line-height:10px;font-weight:700;color:#1a1a1a;white-space:nowrap;transform:scaleX(0.8995);transform-origin:0 0;">2 T</div>
<div style="position:absolute;left:465.40px;top:512.00px;font-size:10px;line-height:10px;font-weight:700;color:#1a1a1a;white-space:nowrap;transform:scaleX(0.9277);transform-origin:0 0;">01.11.19</div>
<div style="position:absolute;left:527.50px;top:512.00px;font-size:10px;line-height:10px;font-weight:700;color:#1a1a1a;white-space:nowrap;transform:scaleX(0.9277);transform-origin:0 0;">04.11.19</div>
<div style="position:absolute;left:34.00px;top:533.00px;font-size:10px;line-height:10px;font-weight:700;color:#1b7ab8;white-space:nowrap;transform:scaleX(0.8270);transform-origin:0 0;">1.1</div>
<div style="position:absolute;left:83.60px;top:533.00px;font-size:10px;line-height:10px;font-weight:400;color:#1a1a1a;white-space:nowrap;">Projekt-Kickoff</div>
<div style="position:absolute;left:299.60px;top:533.00px;font-size:10px;line-height:10px;font-weight:400;color:#1a1a1a;white-space:nowrap;transform:scaleX(0.9103);transform-origin:0 0;">1 T</div>
<div style="position:absolute;left:465.40px;top:533.00px;font-size:10px;line-height:10px;font-weight:400;color:#1a1a1a;white-space:nowrap;transform:scaleX(0.9322);transform-origin:0 0;">01.11.19</div>
<div style="position:absolute;left:527.50px;top:533.00px;font-size:10px;line-height:10px;font-weight:400;color:#1a1a1a;white-space:nowrap;transform:scaleX(0.9322);transform-origin:0 0;">01.11.19</div>
<div style="position:absolute;left:34.00px;top:553.00px;font-size:10px;line-height:10px;font-weight:700;color:#1b7ab8;white-space:nowrap;transform:scaleX(0.8270);transform-origin:0 0;">1.2</div>
<div style="position:absolute;left:83.60px;top:553.00px;font-size:10px;line-height:10px;font-weight:400;color:#1a1a1a;white-space:nowrap;transform:scaleX(0.9699);transform-origin:0 0;">Installation von Project</div>
<div style="position:absolute;left:299.60px;top:553.00px;font-size:10px;line-height:10px;font-weight:400;color:#1a1a1a;white-space:nowrap;transform:scaleX(0.9103);transform-origin:0 0;">1 T</div>
<div style="position:absolute;left:465.40px;top:553.00px;font-size:10px;line-height:10px;font-weight:400;color:#1a1a1a;white-space:nowrap;transform:scaleX(0.9322);transform-origin:0 0;">04.11.19</div>
<div style="position:absolute;left:527.50px;top:553.00px;font-size:10px;line-height:10px;font-weight:400;color:#1a1a1a;white-space:nowrap;transform:scaleX(0.9322);transform-origin:0 0;">04.11.19</div>
<div style="position:absolute;left:20.60px;top:574.00px;font-size:10px;line-height:10px;font-weight:700;color:#1b7ab8;white-space:nowrap;">2</div>
<div style="position:absolute;left:83.60px;top:574.00px;font-size:10px;line-height:10px;font-weight:700;color:#1a1a1a;white-space:nowrap;transform:scaleX(0.8882);transform-origin:0 0;">Konzeptphase</div>
<div style="position:absolute;left:299.60px;top:574.00px;font-size:10px;line-height:10px;font-weight:700;color:#1a1a1a;white-space:nowrap;transform:scaleX(0.8995);transform-origin:0 0;">7 T</div>
<div style="position:absolute;left:465.40px;top:574.00px;font-size:10px;line-height:10px;font-weight:700;color:#1a1a1a;white-space:nowrap;transform:scaleX(0.9277);transform-origin:0 0;">05.11.19</div>
<div style="position:absolute;left:527.50px;top:574.00px;font-size:10px;line-height:10px;font-weight:700;color:#1a1a1a;white-space:nowrap;transform:scaleX(0.9277);transform-origin:0 0;">13.11.19</div>
<div style="position:absolute;left:34.00px;top:594.00px;font-size:10px;line-height:10px;font-weight:700;color:#1b7ab8;white-space:nowrap;transform:scaleX(0.8270);transform-origin:0 0;">2.1</div>
<div style="position:absolute;left:83.60px;top:594.00px;font-size:10px;line-height:10px;font-weight:400;color:#1a1a1a;white-space:nowrap;transform:scaleX(0.9571);transform-origin:0 0;">Einführungsschulung des Projektteams</div>
<div style="position:absolute;left:299.60px;top:594.00px;font-size:10px;line-height:10px;font-weight:400;color:#1a1a1a;white-space:nowrap;transform:scaleX(0.9103);transform-origin:0 0;">2 T</div>
<div style="position:absolute;left:465.40px;top:594.00px;font-size:10px;line-height:10px;font-weight:400;color:#1a1a1a;white-space:nowrap;transform:scaleX(0.9322);transform-origin:0 0;">05.11.19</div>
<div style="position:absolute;left:527.50px;top:594.00px;font-size:10px;line-height:10px;font-weight:400;color:#1a1a1a;white-space:nowrap;transform:scaleX(0.9322);transform-origin:0 0;">06.11.19</div>
<div style="position:absolute;left:34.00px;top:615.00px;font-size:10px;line-height:10px;font-weight:700;color:#1b7ab8;white-space:nowrap;transform:scaleX(0.8270);transform-origin:0 0;">2.2</div>
<div style="position:absolute;left:83.60px;top:615.00px;font-size:10px;line-height:10px;font-weight:400;color:#1a1a1a;white-space:nowrap;transform:scaleX(0.9450);transform-origin:0 0;">Erstellung des Fachkonzeptes</div>
<div style="position:absolute;left:299.60px;top:615.00px;font-size:10px;line-height:10px;font-weight:400;color:#1a1a1a;white-space:nowrap;transform:scaleX(0.9103);transform-origin:0 0;">5 T</div>
<div style="position:absolute;left:465.40px;top:615.00px;font-size:10px;line-height:10px;font-weight:400;color:#1a1a1a;white-space:nowrap;transform:scaleX(0.9322);transform-origin:0 0;">07.11.19</div>
<div style="position:absolute;left:527.50px;top:615.00px;font-size:10px;line-height:10px;font-weight:400;color:#1a1a1a;white-space:nowrap;transform:scaleX(0.9322);transform-origin:0 0;">13.11.19</div>
<div style="position:absolute;left:34.00px;top:635.00px;font-size:10px;line-height:10px;font-weight:700;color:#1b7ab8;white-space:nowrap;transform:scaleX(0.8270);transform-origin:0 0;">2.3</div>
<div style="position:absolute;left:83.60px;top:635.00px;font-size:10px;line-height:10px;font-weight:400;color:#1a1a1a;white-space:nowrap;transform:scaleX(0.9640);transform-origin:0 0;">Customizing Basisschulung Projektteam</div>
<div style="position:absolute;left:299.60px;top:635.00px;font-size:10px;line-height:10px;font-weight:400;color:#1a1a1a;white-space:nowrap;transform:scaleX(0.9103);transform-origin:0 0;">2 T</div>
<div style="position:absolute;left:465.40px;top:635.00px;font-size:10px;line-height:10px;font-weight:400;color:#1a1a1a;white-space:nowrap;transform:scaleX(0.9322);transform-origin:0 0;">07.11.19</div>
<div style="position:absolute;left:527.50px;top:635.00px;font-size:10px;line-height:10px;font-weight:400;color:#1a1a1a;white-space:nowrap;transform:scaleX(0.9322);transform-origin:0 0;">08.11.19</div>
<div style="position:absolute;left:34.00px;top:656.00px;font-size:10px;line-height:10px;font-weight:700;color:#1b7ab8;white-space:nowrap;transform:scaleX(0.8270);transform-origin:0 0;">2.4</div>
<div style="position:absolute;left:83.60px;top:656.00px;font-size:10px;line-height:10px;font-weight:400;color:#1a1a1a;white-space:nowrap;transform:scaleX(0.9413);transform-origin:0 0;">Konzeptphase abgeschlossen</div>
<div style="position:absolute;left:465.40px;top:656.00px;font-size:10px;line-height:10px;font-weight:400;color:#1a1a1a;white-space:nowrap;transform:scaleX(0.9322);transform-origin:0 0;">13.11.19</div>
<div style="position:absolute;left:527.50px;top:656.00px;font-size:10px;line-height:10px;font-weight:400;color:#1a1a1a;white-space:nowrap;transform:scaleX(0.9322);transform-origin:0 0;">13.11.19</div>
</body></html>
